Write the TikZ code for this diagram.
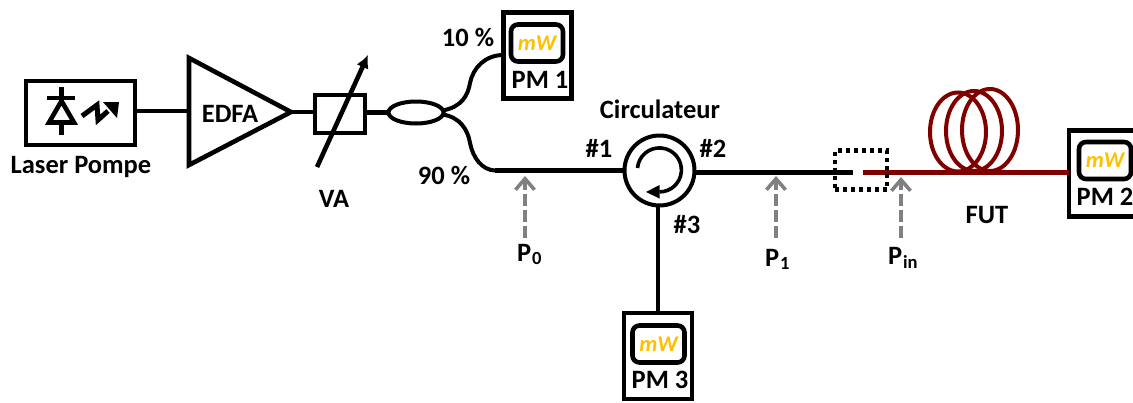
\documentclass[tikz,border=0pt]{standalone}
\usepackage{fontspec}
\setmainfont{Carlito}
\usetikzlibrary{arrows.meta,shapes.geometric}
\definecolor{fut}{RGB}{128,0,0}
\definecolor{mwc}{RGB}{255,192,0}
\definecolor{gr}{RGB}{128,128,128}
\tikzset{
  lbl/.style={font=\fontsize{26.5}{30}\selectfont\bfseries,inner sep=0,outer sep=0},
  frame/.style={draw,line width=4.6pt,inner sep=0,outer sep=0},
  meter/.style={frame,minimum width=68pt,minimum height=86pt},
  screen/.style={draw,line width=4.6pt,rounded corners=7pt,inner sep=0,outer sep=0,minimum width=52pt,minimum height=37pt,text=mwc,font=\fontsize{22.5}{26}\selectfont\bfseries\itshape},
  fibre/.style={line width=4.8pt},
  thin fibre/.style={line width=4pt},
  loop/.style={draw=fut,line width=4pt},
  probe/.style={draw=gr,line width=3.2pt,dash pattern=on 12pt off 4pt,-{Straight Barb[length=11pt,width=19pt,line width=3.6pt]}},
}
\begin{document}
\begin{tikzpicture}[x=1pt,y=-1pt]
\useasboundingbox (0,0) rectangle (1133,402);
% laser
\node[frame,minimum width=109pt,minimum height=64pt] (laser) at (80.5,113) {};
\draw[line width=4.6pt] (61.5,87) -- (61.5,101);
\draw[line width=4.6pt] (61.5,123) -- (61.5,135);
\draw[line width=4.6pt] (47,98) -- (75,98);
\draw[line width=4.6pt,line join=miter] (61.5,101) -- (49,122.5) -- (74,122.5) -- cycle;
\draw[line width=5pt] (82,116) -- (97,105) -- (98,120) -- (108,111);
\fill (119,102) -- (103,102) -- (117,118) -- cycle;
\node[lbl] (lasertxt) at (81,167) {Laser Pompe};
% EDFA
\coordinate (edfaW) at (189,111);
\coordinate (edfaE) at (291,112);
\draw[line width=4.6pt,line join=miter] (189,58) -- (edfaE) -- (189,165) -- cycle;
\node[lbl] (edfa) at (230,114) {EDFA};
% VA
\node[frame,minimum width=50pt,minimum height=38pt] (va) at (340,114) {};
\coordinate (vaA) at (317,167);
\coordinate (vaB) at (368,55);
\draw[line width=4.6pt,-{Latex[length=13pt,width=13pt]}] (vaA) -- (vaB);
\node[lbl] (vatxt) at (334,199) {VA};
% coupler
\node[draw,ellipse,line width=4pt,minimum width=55pt,minimum height=22pt,inner sep=0,outer sep=0] (cpl) at (416,112.5) {};
% meters
\node[meter] (pm1) at (537.5,55.5) {};
\node[screen] (s1) at (537,43) {mW};
\node[lbl] at (540,80) {PM 1};
\node[meter] (pm2) at (1103,173.5) {};
\node[screen] (s2) at (1105,160.5) {mW};
\node[lbl] at (1105,197) {PM 2};
\node[meter] (pm3) at (658,356) {};
\node[screen] (s3) at (658.5,344) {mW};
\node[lbl] at (660,380) {PM 3};
% connectors
\draw[fibre] (laser.east) ++(2,-2) -- (edfaW);
\draw[fibre] (edfaE) -- (va.west |- edfaE);
\draw[fibre] (va.east |- cpl) -- (cpl.west);
\coordinate (c1) at (495,170.5);
\draw[thin fibre] (cpl.east) ++(-1,-2) .. controls (462,107) and (468,95) .. (470,83) .. controls (473,68) and (485,55) .. (pm1.west |- 0,55);
\draw[thin fibre] (cpl.east) ++(-1,2) .. controls (460,117) and (468,130) .. (470,143) .. controls (473,158) and (482,170) .. (c1);
% circulator
\node[draw,circle,line width=4pt,minimum size=70pt,inner sep=0,outer sep=0] (circ) at (659.5,170.5) {};
\draw[line width=3.6pt] (637.5,168) arc[start angle=175,end angle=-90,radius=22pt] coordinate (tipbase);
\fill (646,192) -- (659.5,185) -- (659.5,198.5) -- cycle;
\draw[fibre] (c1) -- (circ.west);
\coordinate (c2) at (853,172.5);
\draw[fibre] (circ.east |- c2) -- (c2);
\draw[fibre] (circ.south -| pm3.north) -- (pm3.north);
% FUT
\coordinate (f1) at (863,172.5);
\draw[loop] (958,132) ellipse[x radius=28,y radius=39.5];
\draw[loop] (974,131) ellipse[x radius=28,y radius=40];
\draw[loop] (990,130) ellipse[x radius=28,y radius=41];
\draw[fut,fibre] (f1) -- (pm2.west |- f1);
\node[lbl] (futtxt) at (987,215) {FUT};
% connector box
\node[draw,line width=4.6pt,dash pattern=on 4pt off 4pt,minimum width=52pt,minimum height=39pt,inner sep=0,outer sep=0] (conn) at (861,170) {};
% labels
\node[lbl] (t10) at (468,37) {10 \%};
\node[lbl] (t90) at (444,175) {90 \%};
\node[lbl] (tc) at (660,109) {Circulateur};
\node[lbl] (t1) at (599,148) {\#1};
\node[lbl] (t2) at (713,148) {\#2};
\node[lbl] (t3) at (687,225) {\#3};
\node[lbl,anchor=base west] (p0) at (517,261) {P\textsubscript{\kern1pt 0}};
\node[lbl,anchor=base west] (p1) at (765,266) {P\textsubscript{\kern1pt 1}};
\node[lbl,anchor=base west] (pin) at (888,264) {P\textsubscript{\kern1pt in}};
% probes
\coordinate (q0) at (525,176);
\coordinate (q1) at (776,176);
\coordinate (qi) at (901,177);
\draw[probe] (q0 |- 0,238) -- (q0);
\draw[probe] (q1 |- 0,238) -- (q1);
\draw[probe] (qi |- 0,238) -- (qi);
\end{tikzpicture}
\end{document}
